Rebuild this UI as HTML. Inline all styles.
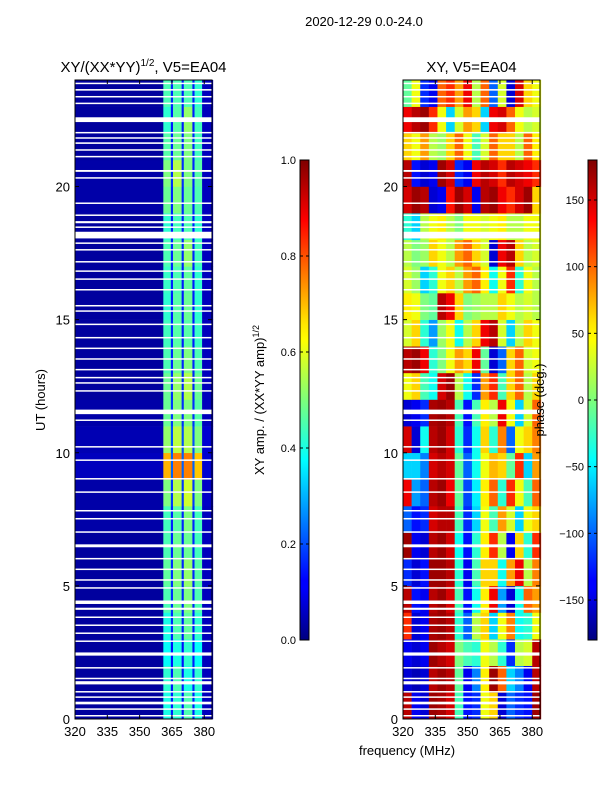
<!DOCTYPE html>
<html><head><meta charset="utf-8"><style>
body{margin:0;background:#fff;}
svg text{font-family:"Liberation Sans","DejaVu Sans",sans-serif;fill:#000;}
</style></head><body>
<svg id="chart" width="600" height="800" xmlns="http://www.w3.org/2000/svg">
<defs>
<linearGradient id="jet" x1="0" y1="1" x2="0" y2="0">
<stop offset="0" stop-color="#00007f"/><stop offset="0.11" stop-color="#0000ff"/><stop offset="0.125" stop-color="#0000ff"/>
<stop offset="0.34" stop-color="#00dcff"/><stop offset="0.375" stop-color="#00ffff"/><stop offset="0.5" stop-color="#7dff7a"/>
<stop offset="0.625" stop-color="#ffff00"/><stop offset="0.66" stop-color="#ffe600"/><stop offset="0.875" stop-color="#ff0000"/><stop offset="1" stop-color="#7f0000"/>
</linearGradient>
</defs>
<text x="364" y="26" font-size="13" text-anchor="middle">2020-12-29 0.0-24.0</text>
<g id="left"></g>
<g id="right"></g>
<g id="cbars"></g>
<text x="0" y="0" font-size="13" text-anchor="middle" transform="translate(45,400) rotate(-90)">UT (hours)</text>
<text x="407" y="755" font-size="13" text-anchor="middle">frequency (MHz)</text>
<text x="0" y="0" font-size="13" text-anchor="middle" transform="translate(264,400) rotate(-90)">XY amp. / (XX*YY amp)<tspan font-size="9" dy="-5">1/2</tspan></text>
<text x="0" y="0" font-size="13" text-anchor="middle" transform="translate(544,400) rotate(-90)">phase (deg.)</text>
</svg>
<script>
// ---- data ----
const hours = [0,1,2,3,4,5,6,7,8,9,10,11,12,13,14,15,16,17,18,19,20,21,22,23];
const ampFreqEdges = [320,361,364.5,365.5,369.5,370.5,374.5,375.5,379,384];
const ampValues = [
[0.03,0.40,0.15,0.42,0.14,0.45,0.15,0.40,0.06],
[0.03,0.42,0.15,0.45,0.15,0.40,0.16,0.42,0.06],
[0.03,0.38,0.14,0.40,0.14,0.42,0.15,0.38,0.06],
[0.03,0.40,0.16,0.45,0.15,0.47,0.15,0.42,0.06],
[0.03,0.45,0.17,0.48,0.16,0.50,0.16,0.45,0.06],
[0.03,0.47,0.17,0.50,0.16,0.52,0.16,0.46,0.06],
[0.03,0.45,0.16,0.48,0.16,0.48,0.16,0.44,0.06],
[0.04,0.44,0.16,0.46,0.16,0.50,0.16,0.44,0.06],
[0.04,0.50,0.18,0.55,0.18,0.58,0.18,0.50,0.07],
[0.06,0.70,0.22,0.75,0.22,0.75,0.22,0.68,0.08],
[0.05,0.52,0.20,0.56,0.20,0.55,0.20,0.50,0.08],
[0.04,0.48,0.18,0.50,0.17,0.50,0.17,0.46,0.06],
[0.03,0.48,0.17,0.52,0.16,0.55,0.16,0.48,0.06],
[0.03,0.45,0.16,0.48,0.16,0.50,0.16,0.45,0.06],
[0.03,0.44,0.16,0.46,0.15,0.46,0.15,0.43,0.06],
[0.03,0.42,0.15,0.46,0.15,0.48,0.15,0.42,0.06],
[0.03,0.43,0.16,0.45,0.15,0.47,0.15,0.42,0.06],
[0.03,0.45,0.16,0.48,0.16,0.52,0.16,0.44,0.06],
[0.03,0.42,0.15,0.44,0.15,0.45,0.15,0.42,0.06],
[0.04,0.48,0.16,0.50,0.16,0.48,0.16,0.45,0.06],
[0.04,0.50,0.17,0.55,0.17,0.50,0.16,0.46,0.06],
[0.03,0.46,0.16,0.48,0.16,0.50,0.16,0.44,0.06],
[0.03,0.42,0.15,0.46,0.15,0.52,0.15,0.44,0.06],
[0.03,0.45,0.16,0.45,0.15,0.45,0.15,0.42,0.06]
];
const phaseFreqEdges = [320,324,328,332,336,340,344,348,352,356,360,364,368,372,376,380,384];
const phaseValues = [
[160,-140,-150,170,165,150,-20,-130,-120,40,60,-150,-100,-120,-130,170],
[-150,-160,-150,160,170,160,-10,-140,-90,50,170,100,-60,-90,-140,160],
[-140,-150,-140,170,160,150,0,-20,-30,40,20,-30,-120,20,30,160],
[120,-150,-140,165,170,160,-30,-100,20,60,-60,40,90,-40,-30,40],
[160,-130,-140,160,170,150,-20,-130,-40,50,140,-80,-150,-40,100,80],
[-120,-150,-130,170,170,160,-30,-140,-20,60,60,-40,80,140,20,90],
[170,-140,-150,160,170,150,-40,-130,-30,50,120,20,-140,60,-30,120],
[-100,-130,-120,150,160,160,-20,-120,-60,40,-20,80,30,-60,40,60],
[140,-80,-100,160,170,140,-10,-110,-50,50,100,-30,120,40,-20,100],
[-60,-60,-90,150,160,150,-10,-100,-40,40,70,60,-10,120,-60,80],
[150,-150,-40,160,170,150,-30,-120,-40,60,-30,90,-100,40,60,90],
[-150,-140,-120,165,170,160,-20,-130,-20,50,20,140,40,-60,30,100],
[40,60,-20,-40,150,170,20,-40,-120,80,120,-20,60,100,20,60],
[160,170,140,-30,0,40,80,60,140,-10,-150,-100,60,100,30,40],
[30,60,-30,-80,10,40,-40,20,60,140,160,30,-60,20,60,40],
[50,40,0,-10,160,140,60,0,10,20,20,60,40,20,30,20],
[30,10,-60,-30,40,60,20,80,100,50,-40,40,120,-30,40,20],
[20,0,10,60,40,20,80,100,60,30,-150,140,160,60,20,30],
[-30,-60,20,40,50,20,0,40,40,30,40,50,20,20,40,40],
[150,170,160,-150,-140,130,170,150,-140,160,170,140,120,150,170,60],
[160,-130,-150,-140,170,150,-120,-140,140,160,150,120,160,150,140,120],
[60,40,80,20,10,60,100,40,-20,30,100,60,60,20,100,50],
[140,160,170,120,40,-60,30,80,60,-60,140,150,100,40,20,30],
[-10,40,-120,-140,100,120,80,140,20,100,-100,30,-150,150,60,40]
];
const flagIntervals = [
[23.85,23.9],[23.6,23.66],[23.35,23.4],[23.1,23.15],[22.42,22.6],[22.0,22.05],[21.8,21.85],[21.6,21.66],[21.35,21.4],[21.1,21.15],
[20.55,20.62],[20.3,20.35],[19.35,19.4],[18.9,18.95],[18.62,18.7],[18.45,18.5],[18.05,18.3],[17.85,17.9],[17.6,17.65],[17.15,17.2],
[16.8,16.85],[16.5,16.55],[16.1,16.15],[15.5,15.55],[15.3,15.35],[14.8,14.85],[14.3,14.35],[13.9,13.95],[13.5,13.55],[13.1,13.15],
[12.8,12.85],[12.6,12.65],[12.3,12.35],[11.45,11.62],[11.2,11.25],[10.2,10.25],[9.7,9.75],[9.0,9.05],[8.5,8.55],[7.8,7.85],[7.5,7.55],
[7.0,7.05],[6.45,6.56],[6.0,6.05],[5.6,5.65],[5.2,5.25],[4.9,4.95],[4.32,4.45],[4.1,4.18],[3.8,3.85],[3.5,3.55],[3.2,3.25],[2.9,2.95],
[2.38,2.5],[1.9,1.95],[1.5,1.55],[1.3,1.42],[1.0,1.05],[0.8,0.85],[0.55,0.65],[0.35,0.4],[0.1,0.15]
];
const ampTicks = [0.0,0.2,0.4,0.6,0.8,1.0];
const phaseTicks = [-150,-100,-50,0,50,100,150];
const freqTicks = [320,335,350,365,380];
const timeTicks = [0,5,10,15,20];

// ---- geometry ----
const NS='http://www.w3.org/2000/svg';
const Y0=719, Y1=80, PW=137;
const yScale=h=>Y0-(h/24)*(Y0-Y1);
const xScale=(x0)=>f=>x0+(f-320)/(383.6-320)*PW;
function jet(v){v=Math.max(0,Math.min(1,v));
 const r=Math.max(0,Math.min(1,1.5-Math.abs(4*v-3))),g=Math.max(0,Math.min(1,1.5-Math.abs(4*v-2))),b=Math.max(0,Math.min(1,1.5-Math.abs(4*v-1)));
 return `rgb(${Math.round(r*255)},${Math.round(g*255)},${Math.round(b*255)})`;}
function mk(tag,attrs,parent){const e=document.createElementNS(NS,tag);for(const k in attrs)e.setAttribute(k,attrs[k]);parent.appendChild(e);return e;}

function panel(g,x0,edges,vals,norm,title,cls){
 const xs=xScale(x0);
 vals.forEach((row,i)=>{row.forEach((v,j)=>{
  const r=mk('rect',{x:xs(edges[j]),y:yScale(hours[i]+1),width:xs(edges[j+1])-xs(edges[j])+0.3,height:yScale(hours[i])-yScale(hours[i]+1)+0.3,fill:jet(norm(v))},g);
  
  
 });});
 flagIntervals.forEach(fl=>{
  const r=mk('rect',{x:x0,y:yScale(fl[1]),width:PW,height:Math.max(1.5,yScale(fl[0])-yScale(fl[1])),fill:'#fff'},g);
  
  
 });
 const fr=mk('rect',{x:x0,y:Y1,width:PW,height:Y0-Y1,fill:'none',stroke:'#000','stroke-width':1},g);
 
 
 freqTicks.forEach(f=>{const x=xs(f);
  mk('line',{x1:x,x2:x,y1:Y0,y2:Y0-4,stroke:'#000'},g);mk('line',{x1:x,x2:x,y1:Y1,y2:Y1+4,stroke:'#000'},g);
  const t=mk('text',{x:x,y:Y0+17,'font-size':13,'text-anchor':'middle'},g);t.textContent=f;
  
  
 });
 timeTicks.forEach(h=>{const y=yScale(h);
  mk('line',{x1:x0,x2:x0+4,y1:y,y2:y,stroke:'#000'},g);mk('line',{x1:x0+PW,x2:x0+PW-4,y1:y,y2:y,stroke:'#000'},g);
  const t=mk('text',{x:x0-5,y:y+5,'font-size':13,'text-anchor':'end'},g);t.textContent=h;
  
  
 });
 const tt=mk('text',{x:x0+PW/2,y:72,'font-size':15,'text-anchor':'middle'},g);tt.innerHTML=title;
 
 
}
panel(document.getElementById('left'),75,ampFreqEdges,ampValues,v=>v,'XY/(XX*YY)<tspan font-size="10" dy="-6">1/2</tspan><tspan dy="6">, V5=EA04</tspan>','amp');
panel(document.getElementById('right'),403,phaseFreqEdges,phaseValues,v=>(v+180)/360,'XY, V5=EA04','phase');

function cbar(g,x,ticks,norm,fmt){
 const r=mk('rect',{x:x,y:160,width:9,height:480,fill:'url(#jet)',stroke:'#000','stroke-width':1},g);
 
 
 ticks.forEach(v=>{const y=640-norm(v)*480;
  mk('line',{x1:x,x2:x+3,y1:y,y2:y,stroke:'#000'},g);mk('line',{x1:x+9,x2:x+6,y1:y,y2:y,stroke:'#000'},g);
  const t=mk('text',{x:x-4,y:y+4,'font-size':11,'text-anchor':'end'},g);t.textContent=fmt(v);
  
  
 });
}
const cb=document.getElementById('cbars');
cbar(cb,300,ampTicks,v=>v,v=>v.toFixed(1));
cbar(cb,588,phaseTicks,v=>(v+180)/360,v=>String(v).replace('-','\u2212'));
</script>
</body></html>
